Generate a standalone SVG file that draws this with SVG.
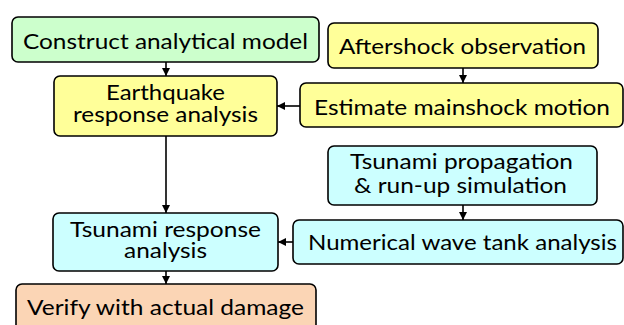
<svg xmlns="http://www.w3.org/2000/svg" width="624" height="325" viewBox="0 0 624 325">
<style>
.box{stroke:#000;stroke-width:1.6}
.g{fill:#CCFFCC}.y{fill:#FFFF99}.c{fill:#CCFFFF}.o{fill:#FBD5B5}
text{font-family:Lato,"Open Sans","Liberation Sans",sans-serif;font-size:22px;fill:#000;text-anchor:middle}
.con line{stroke:#000;stroke-width:1.6;marker-end:url(#ah)}
</style>
<defs>
<marker id="ah" viewBox="0 0 10 10" refX="10" refY="5" markerWidth="5" markerHeight="5" orient="auto" markerUnits="strokeWidth">
<path d="M0,0 L10,5 L0,10 z" fill="#000"/>
</marker>
</defs>
<rect width="624" height="325" fill="#fff"/>
<g id="n1"><rect class="box g" x="12" y="17" width="307" height="45" rx="6"/>
<text x="165.5" y="49" textLength="285" lengthAdjust="spacingAndGlyphs">Construct analytical model</text></g>
<g id="n2"><rect class="box y" x="54" y="76" width="223" height="60" rx="6"/>
<text x="165.5" y="100" textLength="119" lengthAdjust="spacingAndGlyphs">Earthquake</text>
<text x="165.5" y="122" textLength="185" lengthAdjust="spacingAndGlyphs">response analysis</text></g>
<g id="n3"><rect class="box y" x="328" y="23" width="270" height="45" rx="6"/>
<text x="462.5" y="54" textLength="247" lengthAdjust="spacingAndGlyphs">Aftershock observation</text></g>
<g id="n4"><rect class="box y" x="300" y="83" width="323" height="44" rx="6"/>
<text x="462" y="115" textLength="296" lengthAdjust="spacingAndGlyphs">Estimate mainshock motion</text></g>
<g id="n5"><rect class="box c" x="328" y="146" width="269" height="59" rx="6"/>
<text x="461.5" y="169" textLength="223" lengthAdjust="spacingAndGlyphs">Tsunami propagation</text>
<text x="460.5" y="193" textLength="213" lengthAdjust="spacingAndGlyphs">&amp; run-up simulation</text></g>
<g id="n6"><rect class="box c" x="293" y="220" width="330" height="44" rx="6"/>
<text x="462.5" y="250" textLength="309" lengthAdjust="spacingAndGlyphs">Numerical wave tank analysis</text></g>
<g id="n7"><rect class="box c" x="53" y="213" width="225" height="58" rx="6"/>
<text x="165.5" y="237" textLength="191" lengthAdjust="spacingAndGlyphs">Tsunami response</text>
<text x="165.5" y="258" textLength="83" lengthAdjust="spacingAndGlyphs">analysis</text></g>
<g id="n8"><rect class="box o" x="16" y="284" width="300" height="50" rx="6"/>
<text x="165.5" y="315" textLength="277" lengthAdjust="spacingAndGlyphs">Verify with actual damage</text></g>
<g id="connectors" class="con">
<line x1="166" y1="62" x2="166" y2="76"/>
<line x1="463" y1="68" x2="463" y2="83"/>
<line x1="300" y1="106" x2="277" y2="106"/>
<line x1="166" y1="136" x2="166" y2="213"/>
<line x1="463" y1="205" x2="463" y2="220"/>
<line x1="293" y1="242" x2="278" y2="242"/>
<line x1="166" y1="271" x2="166" y2="284"/>
</g>
</svg>
